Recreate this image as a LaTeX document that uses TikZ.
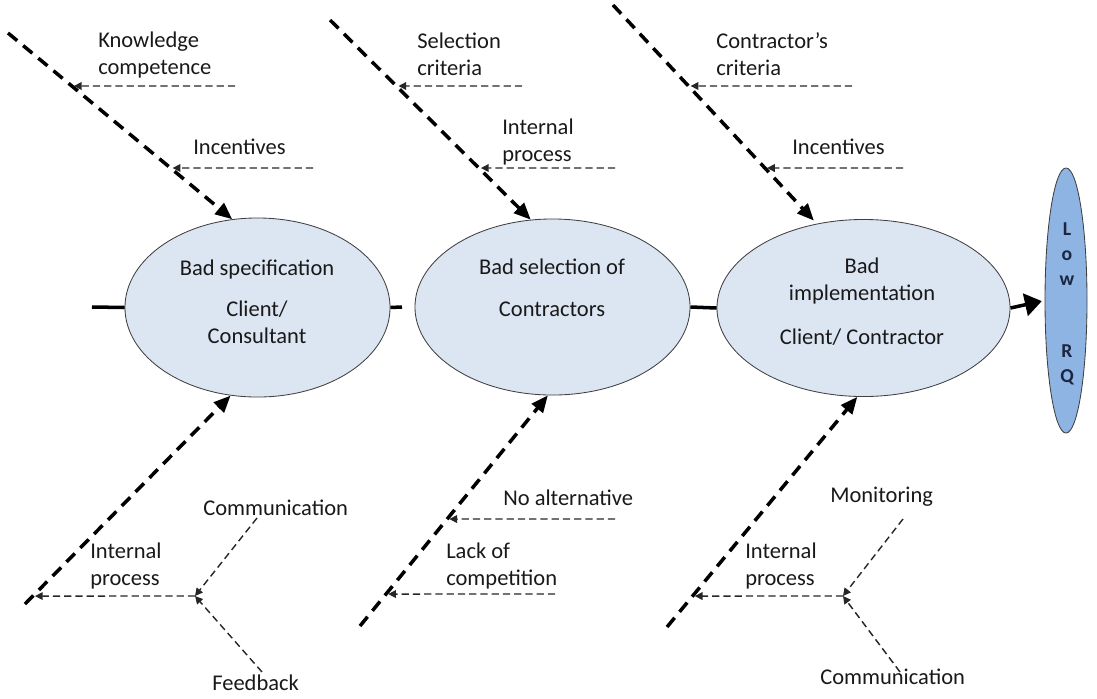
\documentclass[tikz,border=0pt]{standalone}
\usepackage{fontspec}
\setmainfont{Carlito}
\usetikzlibrary{arrows.meta,shapes.geometric}

\definecolor{causefill}{RGB}{220,230,242}
\definecolor{effectfill}{RGB}{141,180,226}
\definecolor{effecttext}{RGB}{28,38,64}

\begin{document}
\begin{tikzpicture}[x=0.025cm,y=-0.025cm,
  cause/.style={ellipse,draw=black!75,line width=0.6pt,fill=causefill,inner sep=0pt},
  txt/.style={inner sep=0pt,anchor=west,align=left,text=black!90,font=\fontsize{16}{19.2}\selectfont},
  ctxt/.style={txt,anchor=center,align=center},
  spine/.style={line width=2.5pt},
  bone/.style={line width=2.5pt,dash pattern=on 8.5pt off 5.5pt,-{Triangle[length=12pt,width=10pt]}},
  sub/.style={line width=1pt,black!85,dash pattern=on 5pt off 3pt,-{Triangle[length=5.5pt,width=5.5pt]},shorten >=1.5pt}]
  \useasboundingbox (0,0) rectangle (1097,698);

  \node[cause,minimum width=6.625cm,minimum height=4.475cm] (spec) at (257.5,307.5) {};
  \node[cause,minimum width=6.875cm,minimum height=4.4cm] (sel) at (552.5,307) {};
  \node[cause,minimum width=7.325cm,minimum height=4.425cm] (impl) at (863.5,308) {};
  \node[cause,fill=effectfill,minimum width=1.05cm,minimum height=6.625cm] (low) at (1066,300.5) {};

  \node[ctxt] (specT) at (257,302) {Bad specification\\[10pt]Client/\\Consultant};
  \node[ctxt] (selT) at (552,288) {Bad selection of\\[10.5pt]Contractors};
  \node[ctxt] (implT) at (862,302) {Bad\\implementation\\[12pt]Client/ Contractor};
  \node[ctxt,text=effecttext,font=\fontsize{14}{17.8}\selectfont\bfseries] (lowT) at (1067,304) {L\\o\\w\\[33pt]R\\Q};

  \coordinate (tail) at (92,307);
  \coordinate (stub) at (402,307);
  \draw[spine] (tail) -- (spec.west);
  \draw[spine] (spec.east) -- (stub);
  \draw[spine] (sel.east) -- (impl.west);
  \draw[spine,-{Triangle[length=12pt,width=16pt]},shorten >=2pt] (impl.east) -- (low.west);

  \coordinate (u1) at (8,33);
  \coordinate (u2) at (330,20);
  \coordinate (u3) at (613,5);
  \coordinate (d1) at (25,604);
  \coordinate (d2) at (360,626);
  \coordinate (d3) at (667,627);
  \draw[bone] (u1) -- (spec.106);
  \draw[bone] (u2) -- (sel.104);
  \draw[bone,shorten >=3pt] (u3) -- (impl.119);
  \draw[bone] (d1) -- (spec.253);
  \draw[bone] (d2) -- (sel.267);
  \draw[bone] (d3) -- (impl.266);

  \coordinate (k1) at (intersection of u1--spec.106 and 0,86--1097,86);
  \coordinate (i1) at (intersection of u1--spec.106 and 0,168--1097,168);
  \coordinate (s2) at (intersection of u2--sel.104 and 0,86--1097,86);
  \coordinate (p2) at (intersection of u2--sel.104 and 0,168--1097,168);
  \coordinate (c3) at (intersection of u3--impl.119 and 0,86--1097,86);
  \coordinate (i3) at (intersection of u3--impl.119 and 0,168--1097,168);
  \coordinate (p1) at (intersection of d1--spec.253 and 0,596--1097,596);
  \coordinate (n2) at (intersection of d2--sel.267 and 0,519--1097,519);
  \coordinate (l2) at (intersection of d2--sel.267 and 0,594--1097,594);
  \coordinate (p3) at (intersection of d3--impl.266 and 0,596--1097,596);

  \coordinate (k1r) at (235,86);
  \coordinate (i1r) at (313,168);
  \coordinate (s2r) at (522,86);
  \coordinate (p2r) at (615,168);
  \coordinate (c3r) at (852,86);
  \coordinate (i3r) at (903,168);
  \coordinate (n2r) at (615,519);
  \coordinate (l2r) at (555,594);
  \coordinate (j1) at (195,596);
  \coordinate (j3) at (843,596);
  \coordinate (cm1) at (257,518);
  \coordinate (fb1) at (262,672);
  \coordinate (mo3) at (903,519);
  \coordinate (cm3) at (900,672);

  \draw[sub] (k1r) -- (k1);
  \draw[sub] (i1r) -- (i1);
  \draw[sub] (s2r) -- (s2);
  \draw[sub] (p2r) -- (p2);
  \draw[sub] (c3r) -- (c3);
  \draw[sub] (i3r) -- (i3);
  \draw[sub] (n2r) -- (n2);
  \draw[sub] (l2r) -- (l2);
  \draw[sub] (j1) -- (p1);
  \draw[sub,shorten >=0pt] (cm1) -- (j1);
  \draw[sub,shorten >=0pt] (fb1) -- (j1);
  \draw[sub] (j3) -- (p3);
  \draw[sub,shorten >=0pt] (mo3) -- (j3);
  \draw[sub,shorten >=0pt] (cm3) -- (j3);

  \node[txt] (know) at (98,55) {Knowledge\\competence};
  \node[txt] (inc1) at (193,147) {Incentives};
  \node[txt] (selc) at (417,54) {Selection\\criteria};
  \node[txt] (intp1) at (502,142) {Internal\\process};
  \node[txt] (contc) at (716,54) {Contractor's\\criteria};
  \node[txt] (inc3) at (792,147) {Incentives};
  \node[txt] (comm1) at (203,508) {Communication};
  \node[txt] (intp2) at (90,566) {Internal\\process};
  \node[txt] (feed) at (212,683) {Feedback};
  \node[txt] (noalt) at (503,498) {No alternative};
  \node[txt] (lack) at (446,566) {Lack of\\competition};
  \node[txt] (monit) at (830,497) {Monitoring};
  \node[txt] (intp3) at (745,566) {Internal\\process};
  \node[txt] (comm3) at (820,677) {Communication};
\end{tikzpicture}
\end{document}
